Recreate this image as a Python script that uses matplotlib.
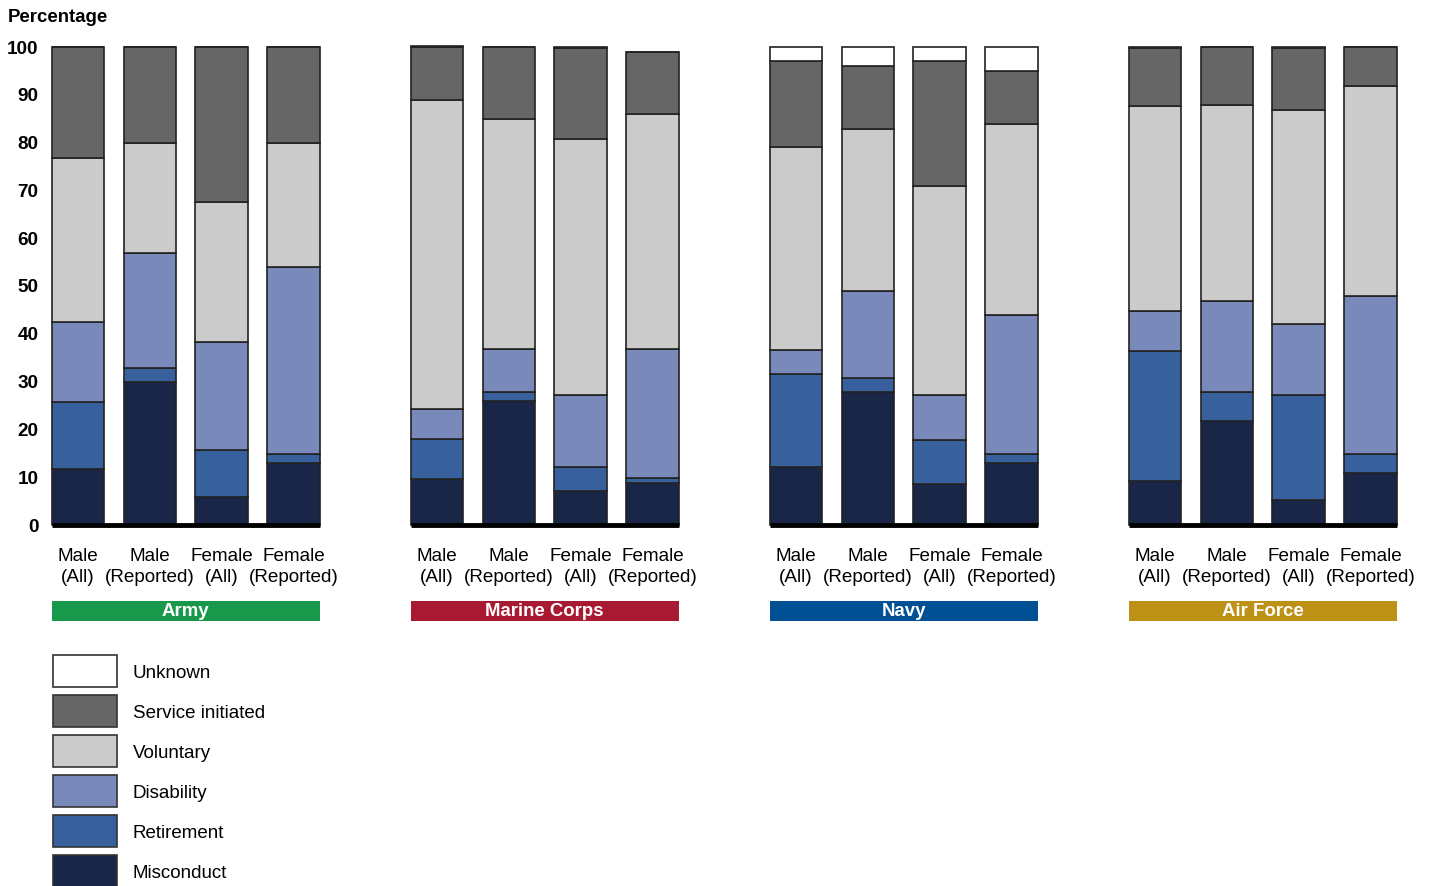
import numpy as np
import matplotlib.pyplot as plt
from matplotlib.patches import Rectangle
from matplotlib.transforms import blended_transform_factory

# ------------------------
# Data
# ------------------------
branches = ['Army', 'Marine Corps', 'Navy', 'Air Force']
branch_colors = ['#17984A', '#A81A32', '#005093', '#BD9116']
bar_labels = ['Male\n(All)', 'Male\n(Reported)', 'Female\n(All)', 'Female\n(Reported)']

categories = ['Misconduct', 'Retirement', 'Disability', 'Voluntary', 'Service initiated', 'Unknown']
cat_colors = ['#1A2647', '#37609C', '#7989B9', '#CBCBCB', '#666666', '#FFFFFF']

# 16 bars: Army x4, Marine Corps x4, Navy x4, Air Force x4
misconduct = [11.7, 29.9, 5.9, 13.0, 9.6, 25.9, 7.1, 8.7, 12.2, 27.8, 8.5, 12.9, 9.3, 21.8, 5.2, 10.8]
retirement = [14.0, 2.9, 9.8, 1.9, 8.4, 1.9, 5.0, 1.1, 19.4, 3.0, 9.3, 2.0, 27.0, 6.0, 22.1, 4.1]
disability = [16.8, 24.1, 22.6, 39.1, 6.3, 9.1, 15.0, 27.1, 5.0, 18.1, 9.5, 29.0, 8.4, 19.1, 14.7, 33.0]
voluntary = [34.3, 23.0, 29.3, 25.9, 64.6, 48.0, 53.7, 49.0, 42.4, 34.0, 43.7, 40.0, 43.0, 41.0, 44.9, 44.0]
service = [23.2, 20.1, 32.4, 20.1, 11.2, 15.1, 19.0, 13.1, 18.1, 13.1, 26.0, 11.1, 12.1, 12.1, 12.9, 8.1]
unknown = [0, 0, 0, 0, 0.2, 0, 0.2, 0, 2.9, 4.0, 3.0, 5.0, 0.2, 0, 0.2, 0]

series = [misconduct, retirement, disability, voluntary, service, unknown]

# ------------------------
# Figure
# ------------------------
W, H = 1434, 886
fig = plt.figure(figsize=(W / 100, H / 100), dpi=100)
FONT = ['Liberation Sans', 'DejaVu Sans']

# axes placed so that x=0 -> px 78, 1 unit = 71.8 px; y=0 -> px 525, 100 -> px 47
px_x = 71.8
px_y = 4.78
ax_left, ax_right = 40, 1425
ax_top, ax_bot = 47 - px_y, 525 + px_y
ax = fig.add_axes([ax_left / W, 1 - ax_bot / H, (ax_right - ax_left) / W, (ax_bot - ax_top) / H])
ax.set_xlim((ax_left - 78) / px_x, (ax_right - 78) / px_x)
ax.set_ylim(-1, 101)

n_groups = len(branches)
n_bars = len(bar_labels)
x = np.array([g * 5 + i for g in range(n_groups) for i in range(n_bars)], dtype=float)
width = 0.73

bottom = np.zeros(len(x))
for vals, col in zip(series, cat_colors):
    vals = np.array(vals)
    ax.bar(x, vals, width, bottom=bottom, color=col, edgecolor='#222222', linewidth=1.2, zorder=2)
    bottom += vals

# thick baseline under each group
for g in range(n_groups):
    ax.hlines(0, g * 5 - width / 2, g * 5 + 3 + width / 2, color='black', linewidth=3.5, zorder=3)

for s in ax.spines.values():
    s.set_visible(False)
ax.set_yticks(np.arange(0, 101, 10))
ax.tick_params(axis='y', length=0, pad=1, labelsize=13.6)
for t in ax.get_yticklabels():
    t.set_fontweight('bold')
    t.set_fontfamily(FONT)
ax.set_xticks([])

fig.text(8 / W, 1 - 18 / H, 'Percentage', fontsize=13.4, fontweight='bold',
         family=FONT, ha='left', va='center')

# bar labels and branch bands
trans = blended_transform_factory(ax.transData, fig.transFigure)
for g in range(n_groups):
    for i in range(n_bars):
        ax.text(g * 5 + i, 1 - 567 / H, bar_labels[i], transform=trans, ha='center', va='center',
                fontsize=13.6, family=FONT, linespacing=1.35)
    band = Rectangle((g * 5 - width / 2, 1 - 621 / H), 3 + width, 20 / H, transform=trans,
                     facecolor=branch_colors[g], edgecolor='none', clip_on=False)
    ax.add_patch(band)
    ax.text(g * 5 + 1.5, 1 - 612 / H, branches[g], transform=trans, ha='center', va='center',
            fontsize=13.4, fontweight='bold', color='white', family=FONT)

# legend (top to bottom: Unknown ... Misconduct)
for k, (name, col) in enumerate(zip(categories[::-1], cat_colors[::-1])):
    yc = 671 + 40 * k
    fig.patches.append(Rectangle((53 / W, 1 - (yc + 16) / H), 64 / W, 32 / H,
                                 transform=fig.transFigure, facecolor=col,
                                 edgecolor='#333333', linewidth=1.2))
    fig.text(133 / W, 1 - (yc + 2) / H, name, fontsize=13.5, family=FONT,
             ha='left', va='center')

plt.savefig('out.png', dpi=100)
